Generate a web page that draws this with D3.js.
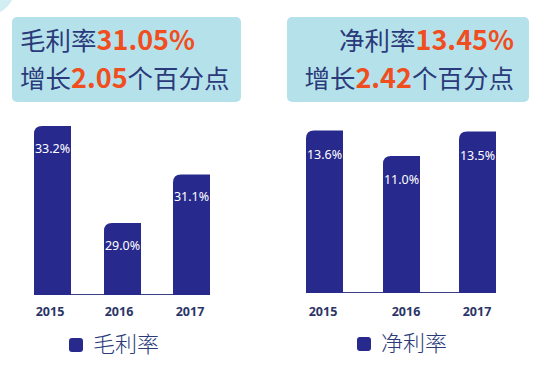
<!DOCTYPE html>
<html><head><meta charset="utf-8">
<script src="https://cdn.jsdelivr.net/npm/d3@7"></script>
<style>body{margin:0;background:#fff}svg{display:block}</style>
</head><body>
<script>
const years = ["2015","2016","2017"];
const grossValues = [33.2, 29.0, 31.1];
const grossLabels = ["33.2%","29.0%","31.1%"];
const netValues = [13.6, 11.0, 13.5];
const netLabels = ["13.6%","11.0%","13.5%"];
const grossTitle = ["毛利率","31.05%"];
const grossGrowth = ["增长","2.05","个百分点"];
const netTitle = ["净利率","13.45%"];
const netGrowth = ["增长","2.42","个百分点"];
const legendNames = ["毛利率","净利率"];

const W=548,H=370;
const NAVY="#272a8c", CYAN="#b5e2ea", ORANGE="#f04e1f", TXT="#2b3a7a";
const FONT="'Noto Sans CJK SC','Noto Sans',sans-serif";
const svg=d3.select("body").append("svg").attr("width",W).attr("height",H);

svg.append("circle").attr("cx",-15).attr("cy",-15).attr("r",31).attr("fill","#d3eef3");

function header(x,y,w,h,title,growth,align){
  svg.append("rect").attr("x",x).attr("y",y).attr("width",w).attr("height",h).attr("rx",5).attr("fill",CYAN);
  const anchor = align==="right"?"end":"start";
  const tx = align==="right"? x+w-15 : x+8;
  const t1=svg.append("text").attr("x",tx).attr("y",y+33).attr("text-anchor",anchor)
    .attr("font-family",FONT).attr("font-size",25.5);
  t1.append("tspan").attr("fill",TXT).text(title[0]);
  t1.append("tspan").attr("fill",ORANGE).attr("font-weight","bold").attr("font-size",27).text(title[1]);
  const t2=svg.append("text").attr("x",tx).attr("y",y+71).attr("text-anchor",anchor)
    .attr("font-family",FONT).attr("font-size",25.5);
  t2.append("tspan").attr("fill",TXT).text(growth[0]);
  t2.append("tspan").attr("fill",ORANGE).attr("font-weight","bold").attr("font-size",27).text(growth[1]);
  t2.append("tspan").attr("fill",TXT).text(growth[2]);
}
header(12,17,229,85,grossTitle,grossGrowth,"left");
header(287,17,242,85,netTitle,netGrowth,"right");

function barPath(x,top,w,base,r){
  return `M${x},${base}L${x},${top+r}Q${x},${top} ${x+r},${top}L${x+w},${top}L${x+w},${base}Z`;
}

function chart(cfg){
  const x=d3.scaleOrdinal().domain(years).range(cfg.xs);
  const y=d3.scaleLinear().domain(cfg.domain).range([cfg.base,cfg.topPx]);
  const g=svg.append("g");
  g.append("line").attr("x1",cfg.xs[0]).attr("x2",cfg.xs[2]+cfg.bw).attr("y1",cfg.base-0.5).attr("y2",cfg.base-0.5)
    .attr("stroke","#3a3f8a").attr("stroke-width",1);
  g.selectAll("path.bar").data(cfg.values).join("path").attr("class","bar")
    .attr("d",(d,i)=>barPath(x(years[i]),y(d),cfg.bw,cfg.base,8)).attr("fill",NAVY);
  g.selectAll("text.val").data(cfg.labels).join("text").attr("class","val")
    .attr("x",(d,i)=>x(years[i])+cfg.bw/2).attr("y",(d,i)=>y(cfg.values[i])+cfg.lblOff)
    .attr("text-anchor","middle").attr("fill","#fff").attr("font-family","'Noto Sans',sans-serif").attr("font-size",12.5).text(d=>d);
  g.selectAll("text.yr").data(years).join("text").attr("class","yr")
    .attr("x",(d,i)=>cfg.yrX[i]).attr("y",316)
    .attr("text-anchor","middle").attr("fill","#2b3566").attr("font-weight","bold")
    .attr("font-family","'Noto Sans',sans-serif").attr("font-size",12.5).text(d=>d);
  g.append("rect").attr("x",cfg.leg[0]).attr("y",cfg.leg[1]).attr("width",14).attr("height",14).attr("rx",3).attr("fill",NAVY);
  g.append("text").attr("x",cfg.leg[0]+24).attr("y",cfg.leg[1]+14).attr("fill",TXT)
    .attr("font-family",FONT).attr("font-size",22).attr("font-weight",300).text(cfg.name);
}
chart({xs:[34,104,173],bw:37,base:295,domain:[25.88,33.2],topPx:126,values:grossValues,labels:grossLabels,
  lblOff:27,yrX:[50,119,190],leg:[69,338],name:legendNames[0]});
chart({xs:[306,383,459],bw:37,base:293,domain:[-3.06,13.6],topPx:130.6,values:netValues,labels:netLabels,
  lblOff:28,yrX:[323,406,477],leg:[357,337],name:legendNames[1]});
</script>
</body></html>
